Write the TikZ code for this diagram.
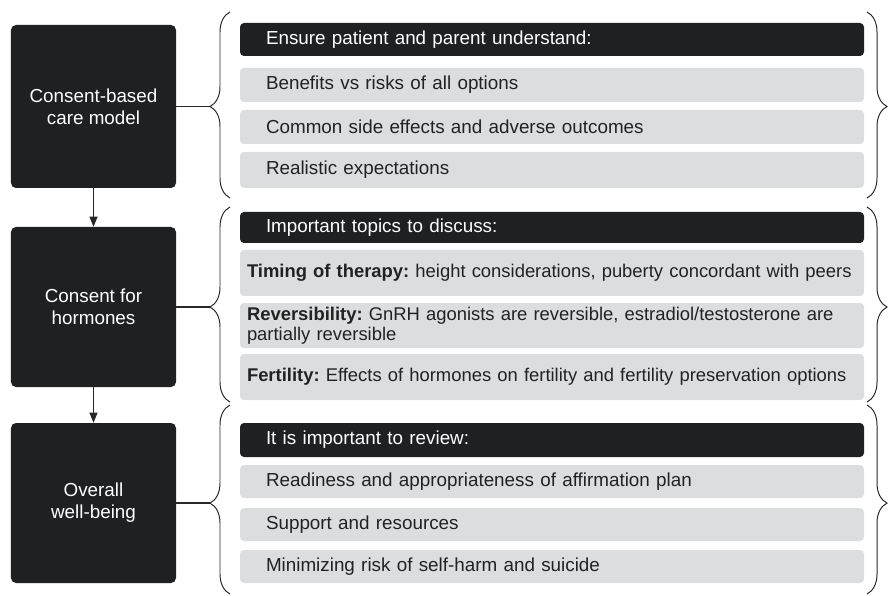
\documentclass[tikz,border=0pt]{standalone}
\usepackage{fontspec}
\setmainfont{Liberation Sans}
\usetikzlibrary{arrows.meta,decorations.pathreplacing}
\frenchspacing

\definecolor{boxdark}{RGB}{31,32,34}
\definecolor{rowgray}{RGB}{220,221,223}
\definecolor{rowtext}{RGB}{34,34,34}
\definecolor{linecol}{RGB}{40,40,40}

\tikzset{
    stage/.style={fill=boxdark,text=white,rounded corners=0.125cm,minimum width=4.125cm,align=center,font=\fontsize{13.4}{15.6}\selectfont},
    head/.style={fill=boxdark,text=white,rounded corners=0.1cm,text width=14.3cm,inner xsep=0.65cm,inner ysep=0.05cm,align=left,font=\fontsize{13.4}{16}\selectfont},
    row/.style={head,fill=rowgray,text=rowtext},
    detail/.style={inner xsep=0.175cm,text width=15.25cm,font=\fontsize{13.1}{14.2}\selectfont},
    curly/.style={decorate,draw=linecol,line width=0.7pt,decoration={brace,amplitude=0.5cm,aspect=#1}},
    link/.style={draw=linecol,line width=0.75pt}
}

\begin{document}
\begin{tikzpicture}
        \pgfmathsetmacro{\bx}{13.8}
        \pgfmathsetmacro{\sx}{2.3375}
        \useasboundingbox (0,0) rectangle (22.25,-14.9);

        \node[stage,minimum height=4.075cm] (b1) at (\sx,-2.6625) {Consent-based\\care model};
        \node[stage,minimum height=4cm] (b2) at (\sx,-7.675) {Consent for\\hormones};
        \node[stage,minimum height=4cm] (b3) at (\sx,-12.575) {Overall\\well-being};
        \draw[link,-{Triangle[length=2.5mm,width=2mm]}] (b1.south) -- (b2.north);
        \draw[link,-{Triangle[length=2.5mm,width=2mm]}] (b2.south) -- (b3.north);

        % first group
        \node[head,minimum height=0.825cm] (h1) at (\bx,-0.9875) {Ensure patient and parent understand:};
        \node[row,minimum height=0.85cm] (r11) at (\bx,-2.125) {Benefits vs risks of all options};
        \node[row,minimum height=0.85cm] (r12) at (\bx,-3.175) {Common side effects and adverse outcomes};
        \node[row,minimum height=0.9cm] (r13) at (\bx,-4.25) {Realistic expectations};

        % second group
        \node[head,minimum height=0.775cm] (h2) at (\bx,-5.6875) {Important topics to discuss:};
        \node[row,detail,minimum height=1.15cm] (r21) at (\bx,-6.825) {\textbf{Timing of therapy:} height considerations, puberty concordant with peers};
        \node[row,detail,minimum height=1.125cm] (r22) at (\bx,-8.1375) {\textbf{Reversibility:} GnRH agonists are reversible, estradiol/testosterone are\\partially reversible};
        \node[row,detail,minimum height=1.15cm] (r23) at (\bx,-9.425) {\textbf{Fertility:} Effects of hormones on fertility and fertility preservation options};

        % third group
        \node[head,minimum height=0.85cm] (h3) at (\bx,-11) {It is important to review:};
        \node[row,minimum height=0.825cm] (r31) at (\bx,-12.0375) {Readiness and appropriateness of affirmation plan};
        \node[row,minimum height=0.825cm] (r32) at (\bx,-13.1125) {Support and resources};
        \node[row,minimum height=0.825cm] (r33) at (\bx,-14.1625) {Minimizing risk of self-harm and suicide};

        % braces round each group
        \draw[curly=0.492] (5.75,-4.95) -- (5.75,-0.3);
        \draw[curly=0.508] (21.675,-0.3) -- (21.675,-4.95);
        \draw[curly=0.487] (5.75,-10.05) -- (5.75,-5.175);
        \draw[curly=0.513] (21.675,-5.175) -- (21.675,-10.05);
        \draw[curly=0.481] (5.75,-14.85) -- (5.75,-10.125);
        \draw[curly=0.519] (21.675,-10.125) -- (21.675,-14.85);

        \coordinate (t1) at (5.25,-2.6625);
        \coordinate (t2) at (5.25,-7.675);
        \coordinate (t3) at (5.25,-12.575);
        \draw[link] (b1.east) -- (t1);
        \draw[link] (b2.east) -- (t2);
        \draw[link] (b3.east) -- (t3);
    \end{tikzpicture}
\end{document}
